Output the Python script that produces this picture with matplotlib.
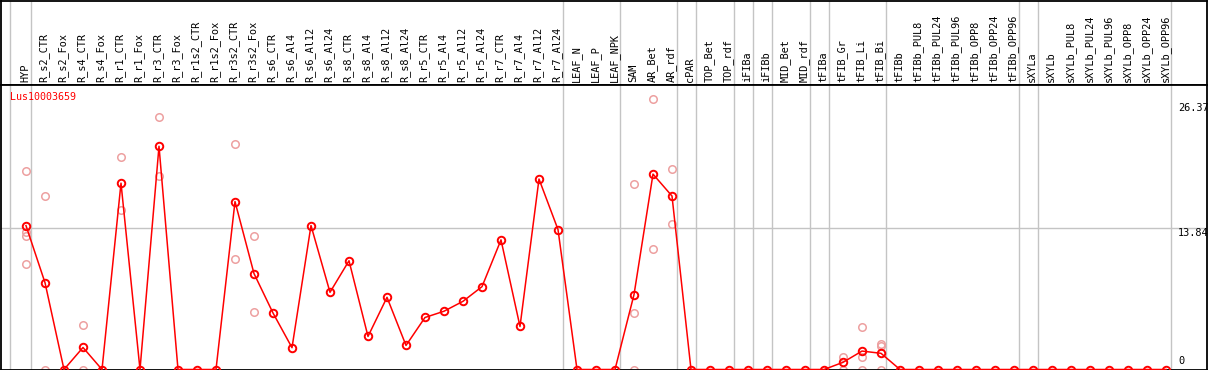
import matplotlib
matplotlib.use("Agg")
import matplotlib.pyplot as plt

# categories (one column each)
labels = ["HYP",
          "R_s2_CTR", "R_s2_Fox", "R_s4_CTR", "R_s4_Fox", "R_r1_CTR", "R_r1_Fox",
          "R_r3_CTR", "R_r3_Fox", "R_r1s2_CTR", "R_r1s2_Fox", "R_r3s2_CTR", "R_r3s2_Fox",
          "R_s6_CTR", "R_s6_Al4", "R_s6_Al12", "R_s6_Al24",
          "R_s8_CTR", "R_s8_Al4", "R_s8_Al12", "R_s8_Al24",
          "R_r5_CTR", "R_r5_Al4", "R_r5_Al12", "R_r5_Al24",
          "R_r7_CTR", "R_r7_Al4", "R_r7_Al12", "R_r7_Al24",
          "LEAF_N", "LEAF_P", "LEAF_NPK",
          "SAM", "AR_Bet", "AR_rdf",
          "cPAR", "TOP_Bet", "TOP_rdf", "iFIBa", "iFIBb", "MID_Bet", "MID_rdf",
          "tFIBa", "tFIB_Gr", "tFIB_Li", "tFIB_Bi",
          "tFIBb", "tFIBb_PUL8", "tFIBb_PUL24", "tFIBb_PUL96",
          "tFIBb_OPP8", "tFIBb_OPP24", "tFIBb_OPP96",
          "sXYLa", "sXYLb", "sXYLb_PUL8", "sXYLb_PUL24", "sXYLb_PUL96",
          "sXYLb_OPP8", "sXYLb_OPP24", "sXYLb_OPP96"]

# group sizes -> grey separators
group_sizes = [1, 28, 3, 3, 1, 2, 1, 1, 2, 1, 3, 7, 1, 7]

# mean expression per category
means = [14.05,
         8.48, 0, 2.15, 0, 18.2, 0, 21.8, 0, 0, 0, 16.4, 9.37,
         5.52, 2.13, 14.06, 7.54, 10.62, 3.23, 7.05, 2.35,
         5.08, 5.69, 6.66, 8.09, 12.66, 4.2, 18.6, 13.67,
         0, 0, 0,
         7.31, 19.08, 16.94,
         0, 0, 0, 0, 0, 0, 0,
         0, 0.7, 1.8, 1.58,
         0, 0, 0, 0, 0, 0, 0,
         0, 0, 0, 0, 0, 0, 0, 0]

# individual replicates (only where they differ from the mean)
replicates = {
    "HYP": [19.4, 13.4, 13.0, 10.3],
    "R_s2_CTR": [16.95, 0],
    "R_s4_CTR": [4.3, 0],
    "R_r1_CTR": [20.8, 15.6],
    "R_r3_CTR": [24.7, 18.85],
    "R_r3s2_CTR": [22.0, 10.8],
    "R_r3s2_Fox": [13.05, 5.66],
    "SAM": [18.1, 5.53, 0],
    "AR_Bet": [26.37, 11.8],
    "AR_rdf": [19.57, 14.2],
    "tFIB_Gr": [1.25, 0],
    "tFIB_Li": [4.13, 1.25, 0],
    "tFIB_Bi": [2.5, 2.3, 0],
}

gene = "Lus10003659"
ymax_label = 26.37
ymid_label = 13.84

W, H = 1209, 370
fig = plt.figure(figsize=(W / 100, H / 100), dpi=100)

def fx(px):
    return px / W

def fy(px):
    return 1 - px / H

x0, x1 = 1, 1207
head_top, head_bot, plot_bot = 0.5, 85, 369.5
xlim = ((x0 - 26) / 19, (x1 - 26) / 19)
ylim = (0, (plot_bot - head_bot) / 10.24)

ax_h = fig.add_axes([fx(x0), fy(head_bot), fx(x1 - x0), fy(head_top) - fy(head_bot)])
ax = fig.add_axes([fx(x0), fy(plot_bot), fx(x1 - x0), fy(head_bot) - fy(plot_bot)])

grey = "#c4c4c4"
for a in (ax_h, ax):
    a.set_xlim(*xlim)
    a.set_xticks([])
    a.set_yticks([])
    for s in a.spines.values():
        s.set_color("black")
        s.set_linewidth(1.3)
    # group separators
    a.axvline(-0.84, color=grey, lw=1.0, zorder=0)
    pos = -1
    for g in group_sizes:
        pos += g
        a.axvline(pos + 0.25, color=grey, lw=1.0, zorder=0)

ax_h.set_ylim(0, 1)
for i, lab in enumerate(labels):
    ax_h.text(i - 0.05, 0.03, lab, rotation=90, ha="center", va="bottom",
              family="DejaVu Sans Mono", fontsize=7.4, color="black")

ax.set_ylim(*ylim)
ax.axhline(ymid_label, color=grey, lw=1.0, zorder=0)

xs = list(range(len(labels)))
for i, lab in enumerate(labels):
    if lab in replicates:
        vals = replicates[lab]
        ax.plot([i] * len(vals), vals, linestyle="none", marker="o", ms=5.4,
                mfc="none", mec="#eda0a0", mew=1.1, zorder=2)

ax.plot(xs, means, color="red", lw=1.1, zorder=3)
ax.plot(xs, means, linestyle="none", marker="o", ms=5.4, mfc="none",
        mec="red", mew=1.4, zorder=4)

# right-hand value labels
for v, dy, va in [(ymax_label, -4, "top"), (ymid_label, -0.5, "top"), (0, 3, "bottom")]:
    ax.annotate(f"{v:g}" if v == 0 else f"{v:.2f}", xy=((1178 - 26) / 19, v),
                xycoords="data", xytext=(0, dy), textcoords="offset pixels",
                ha="left", va=va, family="DejaVu Sans Mono", fontsize=7.4,
                color="black", annotation_clip=False)

fig.text(fx(10), fy(97), gene, color="red", ha="left", va="center",
         family="DejaVu Sans Mono", fontsize=7.2)

fig.savefig("out.png", dpi=100)
